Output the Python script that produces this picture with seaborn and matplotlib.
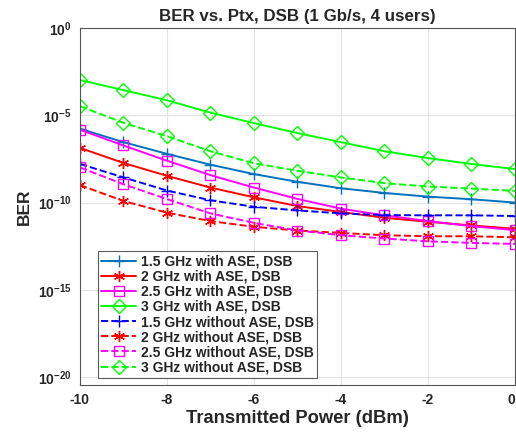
import numpy as np
import pandas as pd
import matplotlib
matplotlib.use("Agg")
import matplotlib.pyplot as plt
import seaborn as sns

# Transmitted power (dBm)
ptx = [-10, -9, -8, -7, -6, -5, -4, -3, -2, -1, 0]

# log10(BER) for each receiver bandwidth, with and without ASE noise
ber_15_ase = [-5.77, -6.54, -7.21, -7.83, -8.37, -8.81, -9.18, -9.45, -9.66, -9.81, -10.0]
ber_20_ase = [-6.87, -7.73, -8.47, -9.14, -9.70, -10.2, -10.54, -10.87, -11.1, -11.31, -11.5]
ber_25_ase = [-5.83, -6.73, -7.60, -8.43, -9.14, -9.79, -10.35, -10.73, -11.06, -11.35, -11.58]
ber_30_ase = [-2.98, -3.56, -4.14, -4.85, -5.45, -6.02, -6.54, -7.06, -7.45, -7.79, -8.08]
ber_15_noase = [-7.79, -8.56, -9.31, -9.87, -10.24, -10.45, -10.62, -10.72, -10.73, -10.73, -10.77]
ber_20_noase = [-9.0, -9.91, -10.58, -11.06, -11.39, -11.6, -11.74, -11.87, -11.93, -11.93, -11.99]
ber_25_noase = [-7.99, -8.95, -9.80, -10.62, -11.16, -11.6, -11.87, -12.06, -12.22, -12.31, -12.37]
ber_30_noase = [-4.48, -5.43, -6.2, -7.06, -7.75, -8.18, -8.56, -8.89, -9.08, -9.2, -9.33]

labels = [
    "1.5 GHz with ASE, DSB", "2 GHz with ASE, DSB",
    "2.5 GHz with ASE, DSB", "3 GHz with ASE, DSB",
    "1.5 GHz without ASE, DSB", "2 GHz without ASE, DSB",
    "2.5 GHz without ASE, DSB", "3 GHz without ASE, DSB",
]
series = [ber_15_ase, ber_20_ase, ber_25_ase, ber_30_ase,
          ber_15_noase, ber_20_noase, ber_25_noase, ber_30_noase]

colors = ["#0072BD", "#FF0000", "#FF00FF", "#00FF00",
          "#0000FF", "#FF0000", "#FF00FF", "#00FF00"]
markers = ["+", (6, 2, 0), "s", "D", "+", (6, 2, 0), "s", "D"]
msizes = [9, 8, 6.5, 7.5, 9, 8, 6.5, 7.5]
styles = ["-", "-", "-", "-", "--", "--", "--", "--"]

sns.set_style("white")
plt.rcParams["font.family"] = ["Liberation Sans", "DejaVu Sans"]
plt.rcParams["font.weight"] = "bold"
plt.rcParams["mathtext.fontset"] = "custom"
plt.rcParams["mathtext.bf"] = "Liberation Sans:bold"
plt.rcParams["mathtext.rm"] = "Liberation Sans:bold"
plt.rcParams["axes.unicode_minus"] = False

fig = plt.figure(figsize=(5.16, 4.41), dpi=100)
ax = fig.add_axes([0.155, 0.127, 0.843, 0.8095])

for vals, lab, c, m, ms, ls in zip(series, labels, colors, markers, msizes, styles):
    df = pd.DataFrame({"ptx": ptx, "ber": 10.0 ** np.array(vals)})
    sns.lineplot(data=df, x="ptx", y="ber", ax=ax, label=lab, color=c,
                 linestyle=ls, linewidth=1.4, marker=m, markersize=ms,
                 markerfacecolor="none", markeredgecolor=c, markeredgewidth=1.0)

ax.set_yscale("log")
ax.set_xlim(-10, 0)
ax.set_ylim(10 ** -20.45, 1)
ax.set_xticks([-10, -8, -6, -4, -2, 0])
xtl = ax.set_xticklabels(["-10", "-8", "-6", "-4", "-2", "0"], fontsize=10, fontweight="bold")
xtl[-1].set_horizontalalignment("right")
yt = [0, -5, -10, -15, -20]
ax.set_yticks([10.0 ** e for e in yt])
ax.set_yticklabels([r"$\mathbf{10^{%d}}$" % e for e in yt], fontsize=10)
ax.minorticks_off()
ax.tick_params(axis="both", direction="in", length=4, color="#555555", pad=6)

ax.grid(True, color="#e3e3e3", linewidth=0.8)
for s in ax.spines.values():
    s.set_color("#555555")
    s.set_linewidth(0.8)

ax.set_title("BER vs. Ptx, DSB (1 Gb/s, 4 users)", fontsize=12.2, fontweight="bold", pad=5)
ax.set_xlabel("Transmitted Power (dBm)", fontsize=13.2, fontweight="bold", labelpad=2)
ax.set_ylabel("BER", fontsize=12.5, fontweight="bold", labelpad=4)

leg = ax.legend(loc="lower left", bbox_to_anchor=(0.041, 0.02), fontsize=10,
                frameon=True, fancybox=False, borderpad=0.25, labelspacing=0.08,
                handlelength=2.5, handletextpad=0.35, borderaxespad=0)
leg.get_frame().set_edgecolor("#333333")
leg.get_frame().set_linewidth(0.8)
for t in leg.get_texts():
    t.set_fontweight("bold")

fig.savefig("out.png", dpi=100)
